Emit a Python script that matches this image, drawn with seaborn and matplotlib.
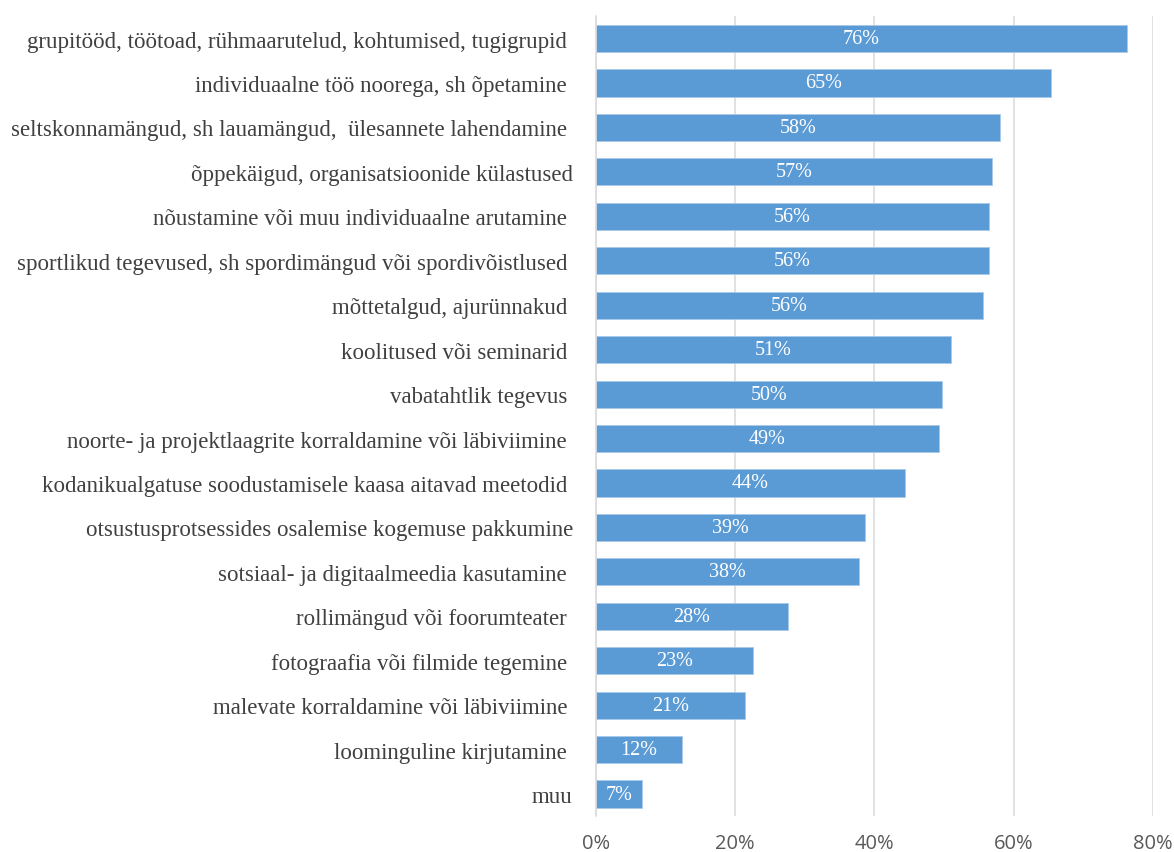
import matplotlib
matplotlib.use("Agg")
import matplotlib.pyplot as plt
import seaborn as sns
import pandas as pd

# Share of respondents using each youth-work method (%)
methods = [
    "grupitööd, töötoad, rühmaarutelud, kohtumised, tugigrupid ",
    "individuaalne töö noorega, sh õpetamine ",
    "seltskonnamängud, sh lauamängud,  ülesannete lahendamine ",
    "õppekäigud, organisatsioonide külastused",
    "nõustamine või muu individuaalne arutamine ",
    "sportlikud tegevused, sh spordimängud või spordivõistlused ",
    "mõttetalgud, ajurünnakud ",
    "koolitused või seminarid ",
    "vabatahtlik tegevus ",
    "noorte- ja projektlaagrite korraldamine või läbiviimine ",
    "kodanikualgatuse soodustamisele kaasa aitavad meetodid ",
    "otsustusprotsessides osalemise kogemuse pakkumine",
    "sotsiaal- ja digitaalmeedia kasutamine ",
    "rollimängud või foorumteater ",
    "fotograafia või filmide tegemine ",
    "malevate korraldamine või läbiviimine ",
    "loominguline kirjutamine ",
    "muu",
]
shares = [76.2, 65.4, 58.0, 56.85, 56.4, 56.4, 55.55, 51.0, 49.76, 49.33,
          44.45, 38.66, 37.8, 27.56, 22.63, 21.39, 12.35, 6.6]
x_ticks = [0, 20, 40, 60, 80]
x_tick_labels = ["0%", "20%", "40%", "60%", "80%"]

df = pd.DataFrame({"method": methods, "share": shares})

sns.set_theme(style="white")
plt.rcParams["font.family"] = ["Liberation Serif", "DejaVu Serif"]

fig = plt.figure(figsize=(11.74, 8.53), dpi=100)
ax = fig.add_axes([0.5074, 0.0419, 0.9821 - 0.5074, 0.9797 - 0.0419])

sns.barplot(data=df, x="share", y="method", orient="h", color="#5B9BD5",
            saturation=1, width=0.61, edgecolor="#a9c9e8", linewidth=0.6,
            ax=ax)

ax.set_xlim(0, 80)
ax.set_ylim(len(methods) - 0.5, -0.5)
ax.set_xticks(x_ticks)
ax.set_xticklabels(x_tick_labels, fontfamily="Open Sans", fontsize=14.5,
                   color="#595959")
ax.set_xlabel("")
ax.set_ylabel("")

ax.tick_params(axis="y", length=0, pad=16.5, labelsize=16.5,
               labelcolor="#404040")
ax.tick_params(axis="x", length=0, pad=12)

ax.set_axisbelow(True)
ax.grid(axis="x", color="#d9d9d9", linewidth=1.1)
ax.grid(axis="y", visible=False)
for side in ("top", "right", "bottom"):
    ax.spines[side].set_visible(False)
ax.spines["left"].set_color("#d9d9d9")
ax.spines["left"].set_linewidth(1.1)

ax.bar_label(ax.containers[0], labels=[f"{round(v)}%" for v in shares],
             label_type="center", color="white", fontsize=14.5)

fig.savefig("out.png", dpi=100, facecolor="white")
